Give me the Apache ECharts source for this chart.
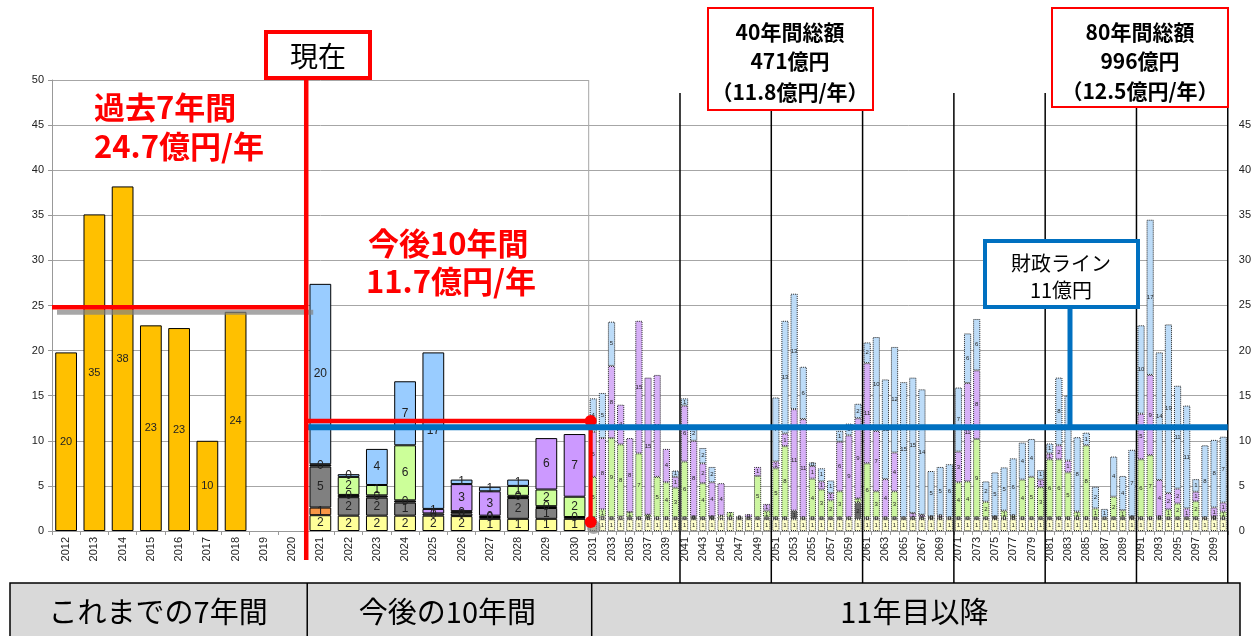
<!DOCTYPE html>
<html><head><meta charset="utf-8">
<script src="https://cdn.jsdelivr.net/npm/echarts@6.0.0/dist/echarts.min.js"></script>
<style>html,body{margin:0;padding:0;background:#fff;}#c{width:1254px;height:636px;}</style>
</head><body><div id="c"></div>
<script>
// ---------- categories ----------
const yearsLeft = ['2012','2013','2014','2015','2016','2017','2018','2019','2020','2021','2022','2023','2024','2025','2026','2027','2028','2029','2030'];
const yearsRight = ['2031','2032','2033','2034','2035','2036','2037','2038','2039','2040',
  '2041','2042','2043','2044','2045','2046','2047','2048','2049','2050',
  '2051','2052','2053','2054','2055','2056','2057','2058','2059','2060',
  '2061','2062','2063','2064','2065','2066','2067','2068','2069','2070',
  '2071','2072','2073','2074','2075','2076','2077','2078','2079','2080',
  '2081','2082','2083','2084','2085','2086','2087','2088','2089','2090',
  '2091','2092','2093','2094','2095','2096','2097','2098','2099','2100'];

// ---------- left part (2012-2030) ----------
const pastCost = [19.8,35.1,38.2,22.8,22.5,10.0,24.3,null,null,null,null,null,null,null,null,null,null,null,null];
const yellowL  = [null,null,null,null,null,null,null,null,null,1.75,1.7,1.7,1.7,1.7,1.65,1.35,1.35,1.35,1.35];
const orangeL  = [null,null,null,null,null,null,null,null,null,0.85,null,null,null,null,null,null,null,null,null];
const grayL    = [null,null,null,null,null,null,null,null,null,4.55,2.05,2.0,1.45,0.25,0.3,0.2,2.3,1.2,0.2];
const blackL   = [null,null,null,null,null,null,null,null,null,0.25,0.25,0.25,0.25,null,0.25,0.15,0.25,0.2,null];
const greenL   = [null,null,null,null,null,null,null,null,null,null,2.0,1.15,6.1,null,null,null,1.1,1.85,2.25];
const purpleL  = [null,null,null,null,null,null,null,null,null,null,null,null,null,0.5,3.0,2.7,null,5.7,6.95];
const blueL    = [null,null,null,null,null,null,null,null,null,20.0,0.3,4.0,7.1,17.35,0.5,0.5,0.7,null,null];

// ---------- right part (2031-2100) ----------
const yellowR = [1.3,1.3,1.3,1.3,1.3,1.3,1.3,1.3,1.3,1.3,
  1.3,1.3,1.3,1.3,1.3,1.3,1.3,1.3,1.3,1.3,
  1.3,1.3,1.3,1.3,1.3,1.3,1.3,1.3,1.3,1.3,
  1.3,1.3,1.3,1.3,1.3,1.3,1.3,1.3,1.3,1.3,
  1.3,1.3,1.3,1.3,1.3,1.3,1.3,1.3,1.3,1.3,
  1.3,1.3,1.3,1.3,1.3,1.3,1.3,1.3,1.3,1.3,
  1.3,1.3,1.3,1.3,1.3,1.3,1.3,1.3,1.3,1.3];
const grayR = [0.2,0.3,0.2,0.3,0.2,0.2,0.2,0.2,0.2,0.2,
  0.2,0.2,0.2,0.2,0.4,0.2,0.2,0.2,0.2,0.2,
  0.2,0.2,0.95,0.2,0.2,0.2,0.2,0.2,0.2,1.8,
  0.2,0.2,0.2,0.2,0.2,0.2,0.2,0.2,0.2,0.2,
  0.2,0.2,0.2,0.2,0.2,0.2,0.2,0.2,0.2,0.2,
  0.2,0.2,0.2,0.2,0.2,0.2,0.2,0.2,0.2,0.2,
  0.2,0.2,0.2,0.2,0.2,0.2,0.2,0.2,0.2,0.2];
const greenR = [4.5,0.8,8.8,8.0,0.6,7.1,0.3,4.5,3.9,3.3,
  6.2,0.1,3.8,0.1,null,0.6,0.1,null,4.6,0.75,
  5.45,7.9,null,null,4.3,3.1,1.9,2.9,null,0.5,
  6.0,2.9,null,2.9,null,null,null,0.1,null,null,
  3.9,4.0,8.7,1.75,0.1,0.75,0.2,4.2,4.5,3.35,
  6.45,6.45,5.0,0.65,8.0,1.0,null,2.3,0.8,0.1,
  6.45,6.9,0.1,0.9,1.55,null,1.8,null,0.1,0.65];
const purpleR = [5.0,7.9,8.0,4.4,8.2,14.7,15.2,11.3,3.7,1.2,
  6.2,8.4,2.2,3.8,3.6,null,null,0.35,1.0,0.75,
  0.75,1.4,11.25,10.9,1.4,0.9,0.8,5.5,9.1,8.9,
  11.1,6.7,4.25,4.3,null,0.5,0.3,null,0.2,null,
  3.4,10.9,7.6,null,null,null,null,null,null,0.85,
  0.65,1.55,1.3,null,null,null,null,null,null,null,
  5.05,8.9,4.05,1.8,1.65,1.0,1.05,null,1.0,1.0];
const blueR = [3.7,5.0,4.9,null,null,null,null,null,null,0.7,
  0.8,1.6,1.7,1.7,null,null,null,null,null,null,
  7.1,12.5,12.8,5.8,0.4,1.45,1.4,1.2,1.3,1.6,
  2.3,10.4,11.05,11.7,15.0,15.0,13.9,5.05,5.4,5.9,
  7.1,5.5,5.7,2.25,4.9,4.8,6.35,4.1,4.2,1.05,
  1.1,7.5,7.2,8.25,1.4,2.4,0.95,4.45,3.8,7.4,
  9.8,17.2,14.15,18.7,11.4,11.4,1.4,8.0,7.5,7.3];

// reference levels (億円)
const pastAvgLevel = 24.8;
const nextAvgLevel = 12.2;
const fiscalLevel = 11.5;

const JP = '"Noto Sans CJK JP", sans-serif';
const AX = '"Liberation Sans", Arial, sans-serif';

function segLabel(size){
  return {show:true, position:'inside', fontSize:size, color:'#222', fontFamily:AX,
    formatter:p=>String(Math.round(p.value))};
}
const leftBar = (name, data, color) => ({name, type:'bar', xAxisIndex:0, yAxisIndex:0, stack:'L', data,
  barCategoryGap:'23%', itemStyle:{color, borderColor:'#000', borderWidth:1}, label:segLabel(12)});
const rightBar = (name, data, color) => ({name, type:'bar', xAxisIndex:1, yAxisIndex:1, stack:'R', data,
  barCategoryGap:'21%', itemStyle:{color, borderColor:'#222', borderWidth:1, borderType:'dotted'}, label:segLabel(6)});

const chart = echarts.init(document.getElementById('c'));
chart.setOption({
  animation:false,
  backgroundColor:'#fff',
  grid:[
    {left:52, top:80, width:536.7, height:451},
    {left:588.7, top:125, width:647.6, height:406}
  ],
  xAxis:[
    {type:'category', gridIndex:0, data:yearsLeft,
      axisLabel:{rotate:90, interval:0, fontSize:11, color:'#222', fontFamily:AX, margin:6},
      axisTick:{show:true, interval:0, length:4, lineStyle:{color:'#999'}},
      axisLine:{lineStyle:{color:'#999'}}},
    {type:'category', gridIndex:1, data:yearsRight,
      axisLabel:{rotate:90, interval:1, fontSize:11, color:'#222', fontFamily:AX, margin:6},
      axisTick:{show:true, interval:0, length:4, lineStyle:{color:'#999'}},
      axisLine:{lineStyle:{color:'#999'}}}
  ],
  yAxis:[
    {type:'value', gridIndex:0, min:0, max:50, interval:5,
      axisLabel:{fontSize:11, color:'#222', fontFamily:AX, margin:8},
      axisLine:{show:true, lineStyle:{color:'#999'}},
      axisTick:{show:true, length:4, lineStyle:{color:'#999'}},
      splitLine:{lineStyle:{color:'#A6A6A6'}}},
    {type:'value', gridIndex:1, position:'right', min:0, max:45, interval:5,
      axisLabel:{fontSize:11, color:'#222', fontFamily:AX, margin:11},
      axisLine:{show:false},
      axisTick:{show:false},
      splitLine:{lineStyle:{color:'#A6A6A6'}}}
  ],
  series:[
    {name:'過去', type:'bar', xAxisIndex:0, yAxisIndex:0, stack:'L', data:pastCost, barCategoryGap:'23%',
      itemStyle:{color:'#FFC000', borderColor:'#000', borderWidth:1}, label:segLabel(11)},
    leftBar('yellowL', yellowL, '#FFFF99'),
    leftBar('orangeL', orangeL, '#F79646'),
    leftBar('grayL', grayL, '#808080'),
    leftBar('blackL', blackL, '#262626'),
    leftBar('greenL', greenL, '#CCFF99'),
    leftBar('purpleL', purpleL, '#CC99FF'),
    leftBar('blueL', blueL, '#99CCFF'),
    rightBar('yellowR', yellowR, '#FFFFCC'),
    Object.assign(rightBar('grayR', grayR, '#E6E6CC'), {itemStyle:{color:p=>p.value>0.5?'#666666':'#E6E6CC', borderColor:'#222', borderWidth:1, borderType:'dotted'}}),
    rightBar('greenR', greenR, '#CCF5A0'),
    rightBar('purpleR', purpleR, '#D7B0F7'),
    rightBar('blueR', blueR, '#BDDCF8')
  ]
});

// ---------- annotations positioned through the axes ----------
const px = (xi, c) => chart.convertToPixel({xAxisIndex:xi}, c);
const py = (yi, v) => chart.convertToPixel({yAxisIndex:yi}, v);
const bnd = (xi, a, b) => (px(xi,a) + px(xi,b)) / 2;
const halfL = (px(0,'2013') - px(0,'2012')) / 2;
const halfR = (px(1,'2032') - px(1,'2031')) / 2;
const leftStart = px(0,'2012') - halfL;
const leftEnd = px(0,'2030') + halfL;
const rightEnd = px(1,'2100') + halfR;
const nowX = bnd(0,'2020','2021');
const yPast = py(0, pastAvgLevel);
const yNext = py(0, nextAvgLevel);
const yFisc = py(0, fiscalLevel);
const yDot = py(0, 1.0);
const Z = 100;

const g = [];
const line = (x1,y1,x2,y2,stroke,w,z) => g.push({type:'line', z:z||Z, shape:{x1,y1,x2,y2}, style:{stroke, lineWidth:w}});
const text = (t,x,y,font,fill,align,z) => g.push({type:'text', z:z||Z+5, style:{text:t, x, y, font, fill,
  align:align||'center', verticalAlign:'middle', textAlign:align||'center', textVerticalAlign:'middle'}});
const rect = (x,y,w,h,stroke,lw,fill,z) => g.push({type:'rect', z:z||Z+2, shape:{x,y,width:w,height:h}, style:{stroke, lineWidth:lw, fill}});

// left grid right border
line(leftEnd, py(0,50), leftEnd, py(0,0), '#A6A6A6', 1, 1);
// decade separators in the right part
[['2040','2041'],['2050','2051'],['2060','2061'],['2070','2071'],['2080','2081'],['2090','2091']].forEach(p=>{
  const x = bnd(1,p[0],p[1]);
  line(x, 93, x, 583, '#000', 1.5, 50);
});
line(rightEnd, 93, rightEnd, 636, '#000', 1.5, 50);

// past average line with shadow
line(leftStart+5, yPast+5, nowX+7, yPast+5, 'rgba(130,130,130,0.7)', 5, Z);
line(leftStart, yPast, nowX, yPast, '#FF0000', 4.5, Z+1);
// fiscal line (blue)
line(nowX+1, yFisc, rightEnd, yFisc, '#0070C0', 6, Z+3);
// next 10-year average
line(nowX, yNext, leftEnd+2, yNext, '#FF0000', 4.5, Z+1);
line(leftEnd+2, yNext, leftEnd+2, yDot, '#FF0000', 4, Z+1);
g.push({type:'circle', z:Z, shape:{cx:leftEnd+5, cy:yDot+5, r:7}, style:{fill:'rgba(120,120,120,0.6)'}});
g.push({type:'circle', z:Z+2, shape:{cx:leftEnd+2, cy:yNext, r:6}, style:{fill:'#FF0000'}});
g.push({type:'circle', z:Z+2, shape:{cx:leftEnd+2, cy:yDot, r:6}, style:{fill:'#FF0000'}});
// now vertical line
line(nowX, 79, nowX, 560, '#FF0000', 4.5, Z+4);

// 現在 box
rect(266, 32, 104, 46, '#FF0000', 4, '#fff', Z+6);
text('現在', 318, 56, '28px ' + JP, '#000', 'center', Z+7);

// red texts
text('過去7年間', 94, 107, 'bold 31px ' + JP, '#FF0000', 'left');
text('24.7億円/年', 94, 146, 'bold 31px ' + JP, '#FF0000', 'left');
text('今後10年間', 368, 243, 'bold 31px ' + JP, '#FF0000', 'left');
text('11.7億円/年', 366, 281, 'bold 31px ' + JP, '#FF0000', 'left');

// fiscal line callout
line(1070, 306, 1070, yFisc, '#0070C0', 5, Z+3);
rect(985, 241, 153, 66, '#0070C0', 4, '#fff', Z+6);
text('財政ライン', 1061, 263, '20px ' + JP, '#000', 'center', Z+7);
text('11億円', 1061, 290, '20px ' + JP, '#000', 'center', Z+7);

// totals boxes
rect(708, 8, 165, 102, '#FF0000', 2, '#fff', Z+6);
text('40年間総額', 790, 32, 'bold 21px ' + JP, '#000', 'center', Z+7);
text('471億円', 790, 61, 'bold 21px ' + JP, '#000', 'center', Z+7);
text('（11.8億円/年）', 790, 92, 'bold 21px ' + JP, '#000', 'center', Z+7);
rect(1052, 8, 176, 99, '#FF0000', 2, '#fff', Z+6);
text('80年間総額', 1140, 32, 'bold 21px ' + JP, '#000', 'center', Z+7);
text('996億円', 1140, 61, 'bold 21px ' + JP, '#000', 'center', Z+7);
text('（12.5億円/年）', 1140, 91, 'bold 21px ' + JP, '#000', 'center', Z+7);

// bottom period table
rect(10, 583, 1230, 54, '#000', 1.5, '#D9D9D9', Z+8);
line(nowX+1, 583, nowX+1, 636, '#000', 1.5, Z+9);
line(leftEnd+3, 583, leftEnd+3, 636, '#000', 1.5, Z+9);
text('これまでの7年間', (10+nowX)/2, 612, '29px ' + JP, '#000', 'center', Z+10);
text('今後の10年間', (nowX+leftEnd)/2, 612, '29px ' + JP, '#000', 'center', Z+10);
text('11年目以降', (leftEnd+1240)/2, 612, '29px ' + JP, '#000', 'center', Z+10);

chart.setOption({graphic:{elements:g}});
</script>
</body></html>
